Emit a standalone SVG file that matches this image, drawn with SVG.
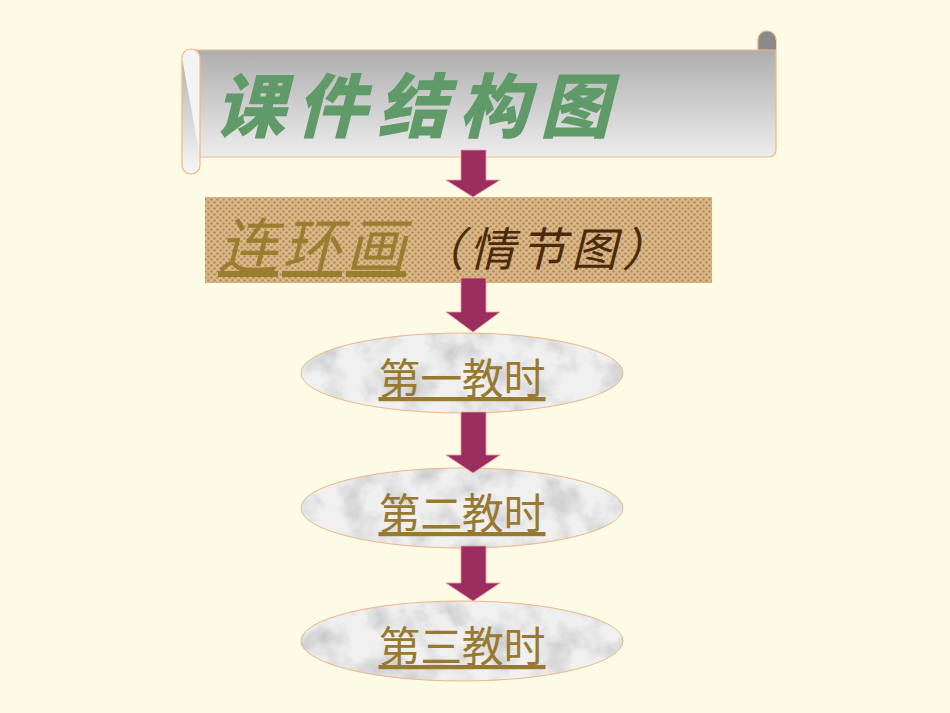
<svg xmlns="http://www.w3.org/2000/svg" width="950" height="713" viewBox="0 0 950 713">
<style>
.arr{fill:#9b2d5f;stroke:#e8a0a0;stroke-width:0.8}
.ell{stroke:#f0b888;stroke-width:1}
.et{font-family:"Noto Sans CJK SC",sans-serif;font-size:42px;fill:#97792f;text-anchor:middle;text-decoration:underline}
</style>
<defs>
<linearGradient id="gr" x1="0" y1="0" x2="0" y2="1"><stop offset="0" stop-color="#a3a3a3"/><stop offset="1" stop-color="#f7f7f7"/></linearGradient>
<pattern id="chk" width="6" height="6" patternUnits="userSpaceOnUse"><rect width="6" height="6" fill="#d9b98a"/><circle cx="1.5" cy="1.5" r="1.3" fill="#b88a55"/><circle cx="4.5" cy="4.5" r="1.3" fill="#b88a55"/></pattern>
<filter id="mf" x="0" y="0" width="1" height="1" filterUnits="objectBoundingBox"><feTurbulence type="fractalNoise" baseFrequency="0.035" numOctaves="4" seed="3" result="t"/><feColorMatrix in="t" type="matrix" values="0 0 0 0 0.58  0 0 0 0 0.58  0 0 0 0 0.6  0 0 0 -2 1.2" result="c"/><feFlood flood-color="#f0f0f0"/><feComposite in="c" operator="over"/><feComposite in2="SourceGraphic" operator="in"/></filter>
</defs>
<rect width="950" height="713" fill="#fdfbe5"/>
<g id="scroll">
<path d="M758,50 L758,40 A9,9 0 0 1 776,40 L776,150 A7,7 0 0 1 769,157 L200,157 L200,165 A9,9 0 0 1 182,165 L182,58 A8,8 0 0 1 190,50 Z" fill="url(#gr)" stroke="#f0b888" stroke-width="1.2"/>
<path d="M182,58 A9,9 0 0 1 200,58 L200,157" fill="#f4f4f4" stroke="#f0b888" stroke-width="1.2"/>
<path d="M776,40 A9,9 0 0 0 758,40 L758,50 L776,50" fill="#8a8a8a" stroke="#f0b888" stroke-width="1"/>
<text x="215" y="132" font-family="Noto Sans CJK SC,sans-serif" font-weight="900" font-style="italic" font-size="70" fill="#5f9a68" textLength="395">课件结构图</text>
</g>
<g id="box">
<rect x="205" y="197" width="507" height="86" fill="url(#chk)"/>
<text x="218" y="268" font-family="Noto Sans CJK SC,sans-serif" font-size="60" font-style="italic" fill="#9a7d2e" text-decoration="underline" textLength="188">连环画</text>
<text x="418" y="266" font-family="Noto Sans CJK SC,sans-serif" font-size="46" font-style="italic" fill="#4a2a0a" textLength="250">（情节图）</text>
</g>
<g id="n1"><ellipse class="ell" cx="462" cy="373" rx="161" ry="40" fill="#eee" filter="url(#mf)"/><ellipse cx="462" cy="373" rx="161" ry="40" fill="none" stroke="#f0b888"/><text class="et" x="462" y="394" textLength="167">第一教时</text></g>
<g id="n2"><ellipse class="ell" cx="462" cy="508" rx="161" ry="40" fill="#eee" filter="url(#mf)"/><ellipse cx="462" cy="508" rx="161" ry="40" fill="none" stroke="#f0b888"/><text class="et" x="462" y="529" textLength="167">第二教时</text></g>
<g id="n3"><ellipse class="ell" cx="462" cy="641" rx="161" ry="40" fill="#eee" filter="url(#mf)"/><ellipse cx="462" cy="641" rx="161" ry="40" fill="none" stroke="#f0b888"/><text class="et" x="462" y="662" textLength="167">第三教时</text></g>
<g id="connectors">
<path class="arr" d="M461,150 H486 V180 H500 L473,197 L446,180 H461 Z"/>
<path class="arr" d="M461,278 H486 V312 H500 L473,332 L446,312 H461 Z"/>
<path class="arr" d="M461,412 H486 V455 H500 L473,473 L446,455 H461 Z"/>
<path class="arr" d="M461,546 H486 V583 H500 L473,601 L446,583 H461 Z"/>
</g>
</svg>
